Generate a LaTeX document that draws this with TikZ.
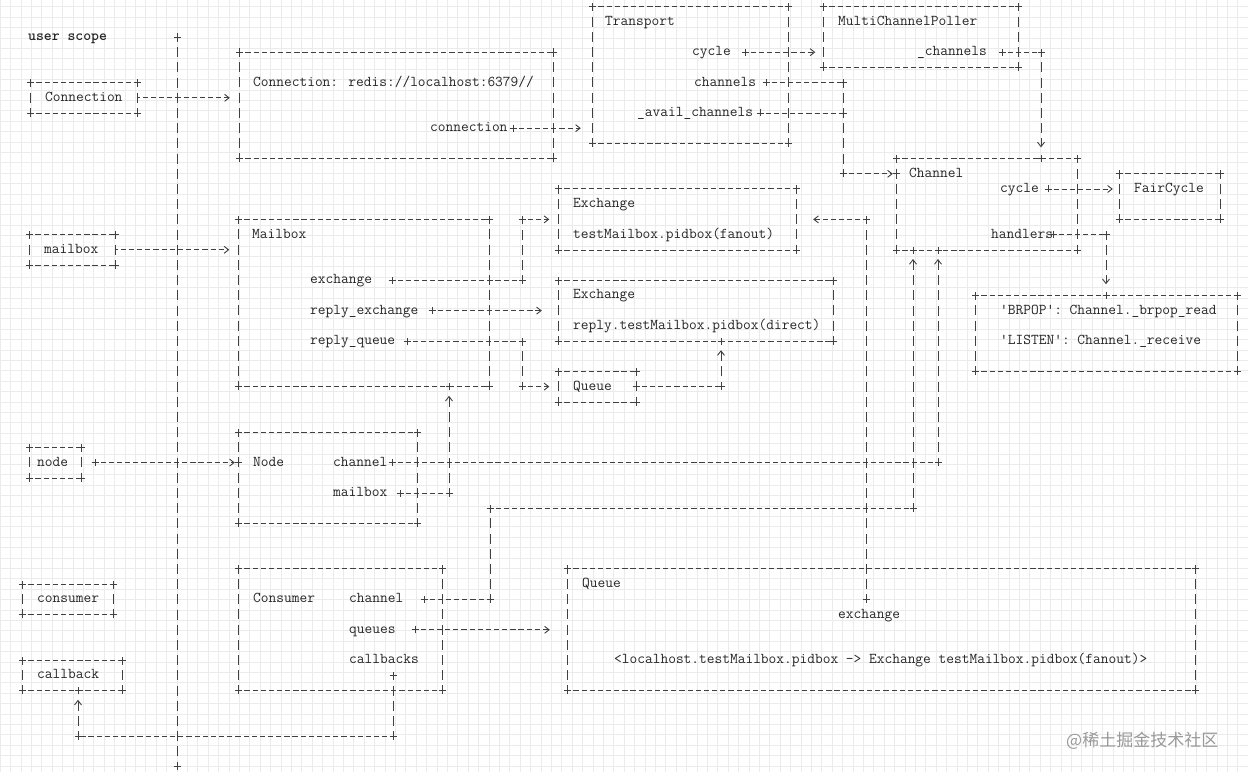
\documentclass[tikz,border=0pt]{standalone}
\usepackage{fontspec}
\newfontfamily\cjk{Noto Sans CJK SC}
\usetikzlibrary{positioning}
\usetikzlibrary{fit}
\usetikzlibrary{arrows.meta}

\begin{document}
\begin{tikzpicture}[x=1pt, y=-15.2pt,
    txt/.style={anchor=base west, inner sep=0pt, yshift=-3.5pt,
        font=\fontsize{15}{15}\selectfont\ttfamily, text=black!85},
    box/.style={inner sep=0pt},
    hdash/.style={line width=0.9pt, black!75, dash pattern=on 5.2pt off 2.96pt, dash phase=2.6pt},
    vdash/.style={line width=0.9pt, black!75, dash pattern=on 10pt off 5.2pt, dash phase=5pt},
    crossmark/.style={line width=0.9pt, black!75, solid},
    arrowhd/.style={-{Straight Barb[length=4.5pt,width=7pt]}},
    gridline/.style={black!8, line width=0.5pt}]

    % background grid
    \useasboundingbox (0,-0.4342) rectangle (1248,50.355);
    \fill[white] (0,50.355) rectangle (1248,-0.4342);
    \draw[gridline, step=10.4pt] (0,50.355) grid (1248,-0.4342);

    % Boxes
    \node[box, fit={(31,5) (137,7)}] (connsm) {};
    \node[box, fit={(240,3) (553,10)}] (connbig) {};
    \node[box, fit={(593,0) (788,9)}] (transport) {};
    \node[box, fit={(824,0) (1018,4)}] (poller) {};
    \node[box, fit={(897,10) (1077,16)}] (channel) {};
    \node[box, fit={(1120,11) (1220,14)}] (fair) {};
    \node[box, fit={(976,19) (1237,24)}] (handlers) {};
    \node[box, fit={(30,15) (115,17)}] (mbxsm) {};
    \node[box, fit={(239,14) (489,25)}] (mailbox) {};
    \node[box, fit={(559,12) (796,16)}] (exfan) {};
    \node[box, fit={(559,18) (833,22)}] (exdir) {};
    \node[box, fit={(559,24) (636,26)}] (queuesm) {};
    \node[box, fit={(30,29) (81,31)}] (nodesm) {};
    \node[box, fit={(239,28) (417,34)}] (nodebox) {};
    \node[box, fit={(23,38) (113,40)}] (conssm) {};
    \node[box, fit={(23,43) (122,45)}] (callsm) {};
    \node[box, fit={(239,37) (442,45)}] (consumer) {};
    \node[box, fit={(568,37) (1195,45)}] (queuebig) {};

    % Box edges drawn as ascii lines
    \foreach \b in {connsm,connbig,transport,poller,channel,fair,handlers,mbxsm,mailbox,
                    exfan,exdir,queuesm,nodesm,nodebox,conssm,callsm,consumer,queuebig} {
        \draw[hdash] (\b.north west) -- (\b.north east) (\b.south west) -- (\b.south east);
        \draw[vdash] (\b.north west) -- (\b.south west) (\b.north east) -- (\b.south east);
        \foreach \c in {north west,north east,south west,south east}
            \draw[crossmark] (\b.\c) +(-3.5pt,0) -- +(3.5pt,0) +(0,-3.5pt) -- +(0,3.5pt);
    }

    % Texts
    \node[txt] (tScope) at (28,2) {\bfseries user scope};
    \node[txt] (tConnSm) at (45,6) {Connection};
    \node[txt] (tConnBig) at (253,5) {Connection: redis://localhost:6379//};
    \node[txt] (tConnection) at (430,8) {connection};
    \node[txt] (tTransport) at (605,1) {Transport};
    \node[txt] (tCycle) at (692,3) {cycle};
    \node[txt] (tChannels) at (694,5) {channels};
    \node[txt] (tAvail) at (637,7) {\_avail\_channels};
    \node[txt] (tPoller) at (838,1) {MultiChannelPoller};
    \node[txt] (tPollCh) at (917,3) {\_channels};
    \node[txt] (tChannel) at (909,11) {Channel};
    \node[txt] (tChCycle) at (1000,12) {cycle};
    \node[txt] (tFair) at (1134,12) {FairCycle};
    \node[txt] (tHandlers) at (991,15) {handlers};
    \node[txt] (tBrpop) at (1000,20) {'BRPOP': Channel.\_brpop\_read};
    \node[txt] (tListen) at (1000,22) {'LISTEN': Channel.\_receive};
    \node[txt] (tMbxSm) at (44,16) {mailbox};
    \node[txt] (tMailbox) at (252,15) {Mailbox};
    \node[txt] (tExch) at (310,18) {exchange};
    \node[txt] (tReplyEx) at (310,20) {reply\_exchange};
    \node[txt] (tReplyQ) at (310,22) {reply\_queue};
    \node[txt] (tExFan) at (573,13) {Exchange};
    \node[txt] (tFanout) at (573,15) {testMailbox.pidbox(fanout)};
    \node[txt] (tExDir) at (573,19) {Exchange};
    \node[txt] (tDirect) at (573,21) {reply.testMailbox.pidbox(direct)};
    \node[txt] (tQueueSm) at (573,25) {Queue};
    \node[txt] (tNodeSm) at (37,30) {node};
    \node[txt] (tNode) at (253,30) {Node};
    \node[txt] (tNodeCh) at (333,30) {channel};
    \node[txt] (tNodeMb) at (333,32) {mailbox};
    \node[txt] (tConsSm) at (37,39) {consumer};
    \node[txt] (tCallSm) at (37,44) {callback};
    \node[txt] (tConsumer) at (253,39) {Consumer};
    \node[txt] (tConsCh) at (349,39) {channel};
    \node[txt] (tQueues) at (349,41) {queues};
    \node[txt] (tCallbacks) at (349,43) {callbacks};
    \node[txt] (tQueueBig) at (582,38) {Queue};
    \node[txt] (tQExch) at (838,40) {exchange};
    \node[txt] (tRepr) at (614,43) {<localhost.testMailbox.pidbox -> Exchange testMailbox.pidbox(fanout)>};
    \node[anchor=west, inner sep=0pt, font=\cjk\fontsize{17}{17}\selectfont, text=black!40] (mark) at (1066,48.3) {@稀土掘金技术社区};

    % Ports and bends
    \coordinate (scopeTop) at (177,2);
    \coordinate (scopeBot) at (177,50);
    \coordinate (pConn) at (513,8);
    \coordinate (pCycle) at (745,3);
    \coordinate (pChannels) at (766,5);
    \coordinate (pAvail) at (760,7);
    \coordinate (jTop) at (843.5,5);
    \coordinate (jAvail) at (843.5,7);
    \coordinate (jChan) at (843.5,11);
    \coordinate (pPoll) at (1002,3);
    \coordinate (jPoll) at (1041,3);
    \coordinate (pFair) at (1048,12);
    \coordinate (pHandlers) at (1053,15);
    \coordinate (jHandlers) at (1106,15);
    \coordinate (pExch) at (392,18);
    \coordinate (jExchA) at (522,18);
    \coordinate (jExchB) at (522,14);
    \coordinate (pReplyEx) at (432,20);
    \coordinate (pReplyQ) at (407,22);
    \coordinate (jReplyA) at (522,22);
    \coordinate (jReplyB) at (522,25);
    \coordinate (jQueue) at (721,25);
    \coordinate (pNode) at (95,30);
    \coordinate (pNodeCh) at (392,30);
    \coordinate (jNodeCh) at (938,30);
    \coordinate (pNodeMb) at (400,32);
    \coordinate (jNodeMb) at (449,32);
    \coordinate (pConsCh) at (424,39);
    \coordinate (jConsA) at (490,39);
    \coordinate (jConsB) at (490,33);
    \coordinate (jConsC) at (913,33);
    \coordinate (pQueues) at (415,41);
    \coordinate (pCallbacks) at (393,44);
    \coordinate (jCallA) at (393,48);
    \coordinate (jCallB) at (78,48);
    \coordinate (pQExch) at (866,39);
    \coordinate (jQExch) at (866,14);

    % user scope divider
    \draw[vdash] (scopeTop) -- (scopeBot);

    % Connectors
    \draw[hdash, arrowhd, shorten >=10pt] (connsm.east) -- (connbig.west |- connsm.east);
    \draw[hdash, arrowhd, shorten >=9.5pt] (mbxsm.east) -- (mailbox.west |- mbxsm.east);
    \draw[hdash, arrowhd, shorten >=4pt] (pNode) -- (nodebox.west |- pNode);
    \draw[hdash, arrowhd, shorten >=12pt] (pConn) -- (transport.west |- pConn);
    \draw[hdash, arrowhd, shorten >=8.5pt] (pCycle) -- (poller.west |- pCycle);
    \draw[hdash] (pChannels) -- (jTop);
    \draw[vdash] (jTop) -- (jChan);
    \draw[hdash] (pAvail) -- (jAvail);
    \draw[hdash, arrowhd, shorten >=4pt] (jChan) -- (channel.west |- jChan);
    \draw[hdash] (pPoll) -- (jPoll);
    \draw[vdash, arrowhd, shorten >=11pt] (jPoll) -- (jPoll |- channel.north);
    \draw[hdash, arrowhd, shorten >=7pt] (pFair) -- (fair.west |- pFair);
    \draw[hdash] (pHandlers) -- (jHandlers);
    \draw[vdash, arrowhd, shorten >=11pt] (jHandlers) -- (jHandlers |- handlers.north);
    \draw[hdash] (pExch) -- (jExchA);
    \draw[vdash] (jExchA) -- (jExchB);
    \draw[hdash, arrowhd, shorten >=9.5pt] (jExchB) -- (exfan.west |- jExchB);
    \draw[hdash, arrowhd, shorten >=17pt] (pReplyEx) -- (exdir.west |- pReplyEx);
    \draw[hdash] (pReplyQ) -- (jReplyA);
    \draw[vdash] (jReplyA) -- (jReplyB);
    \draw[hdash, arrowhd, shorten >=9.5pt] (jReplyB) -- (queuesm.west |- jReplyB);
    \draw[hdash] (queuesm.east) -- (jQueue);
    \draw[vdash, arrowhd, shorten >=9pt] (jQueue) -- (jQueue |- exdir.south);
    \draw[hdash] (pNodeCh) -- (jNodeCh);
    \draw[vdash, arrowhd, shorten >=9pt] (jNodeCh) -- (jNodeCh |- channel.south);
    \draw[hdash] (pNodeMb) -- (jNodeMb);
    \draw[vdash, arrowhd, shorten >=9pt] (jNodeMb) -- (jNodeMb |- mailbox.south);
    \draw[hdash] (pConsCh) -- (jConsA);
    \draw[vdash] (jConsA) -- (jConsB);
    \draw[hdash] (jConsB) -- (jConsC);
    \draw[vdash, arrowhd, shorten >=9pt] (jConsC) -- (jConsC |- channel.south);
    \draw[hdash, arrowhd, shorten >=18pt] (pQueues) -- (queuebig.west |- pQueues);
    \draw[vdash] (pCallbacks) -- (jCallA);
    \draw[hdash] (jCallA) -- (jCallB);
    \draw[vdash, arrowhd, shorten >=9pt] (jCallB) -- (jCallB |- callsm.south);
    \draw[vdash] (pQExch) -- (jQExch);
    \draw[hdash, arrowhd, shorten >=17pt] (jQExch) -- (exfan.east |- jQExch);

    % Plus marks at ports, bends and landing points
    \foreach \p in {scopeTop, scopeBot, pConn, pCycle, pChannels, pAvail, jTop, jAvail, jChan,
                    pPoll, jPoll, pFair, pHandlers, jHandlers, pExch, jExchA, jExchB, pReplyEx,
                    pReplyQ, jReplyA, jReplyB, jQueue, pNode, pNodeCh, jNodeCh, pNodeMb, jNodeMb,
                    pConsCh, jConsA, jConsB, jConsC, pQueues, pCallbacks, jCallA, jCallB, pQExch, jQExch,
                    channel.west |- jChan, jPoll |- channel.north, jHandlers |- handlers.north,
                    jQueue |- exdir.south, jNodeCh |- channel.south, jConsC |- channel.south,
                    jNodeMb |- mailbox.south, jCallB |- callsm.south, nodebox.west |- pNode, queuesm.east}
        \draw[crossmark] (\p) +(-3.5pt,0) -- +(3.5pt,0) +(0,-3.5pt) -- +(0,3.5pt);
\end{tikzpicture}
\end{document}
